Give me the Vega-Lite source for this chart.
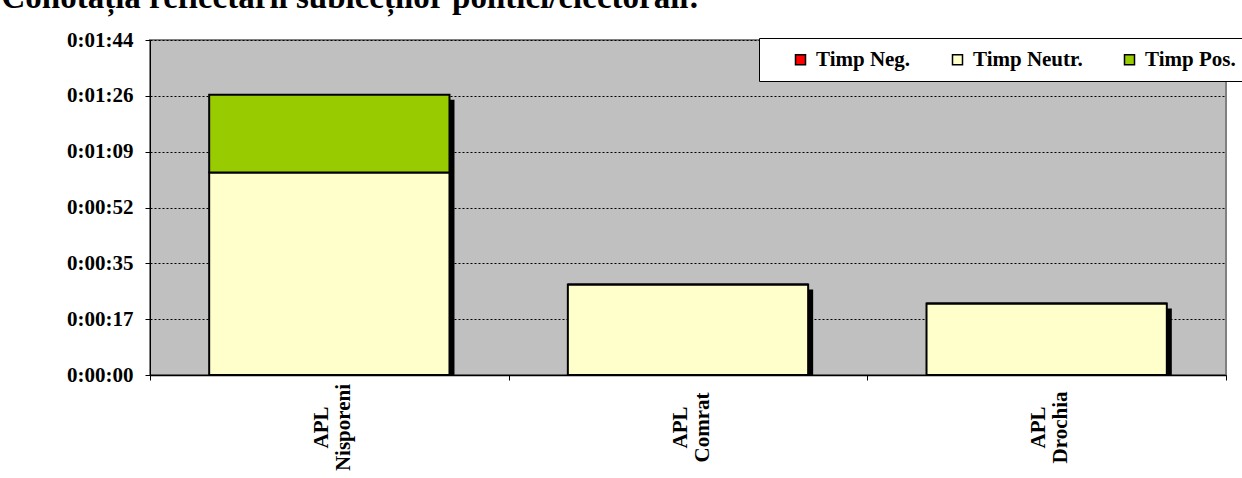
{
  "$schema": "https://vega.github.io/schema/vega-lite/v6.json",
  "autosize": "none",
  "width": 1076,
  "height": 335,
  "padding": {"left": 150, "top": 40, "right": 16, "bottom": 103},
  "background": "white",
  "title": {
    "text": "Conotația reflectării subiecților politici/electorali:",
    "anchor": "start",
    "font": "Liberation Serif",
    "fontSize": 33,
    "fontWeight": "bold",
    "color": "black",
    "dx": -65,
    "dy": 22,
    "offset": 10,
    "baseline": "alphabetic"
  },
  "data": {
    "values": [
      {"subject": "APL Nisporeni", "type": "Timp Neg.", "seconds": 0},
      {"subject": "APL Nisporeni", "type": "Timp Neutr.", "seconds": 62.7},
      {"subject": "APL Nisporeni", "type": "Timp Pos.", "seconds": 24.0},
      {"subject": "APL Comrat", "type": "Timp Neg.", "seconds": 0},
      {"subject": "APL Comrat", "type": "Timp Neutr.", "seconds": 28.0},
      {"subject": "APL Comrat", "type": "Timp Pos.", "seconds": 0},
      {"subject": "APL Drochia", "type": "Timp Neg.", "seconds": 0},
      {"subject": "APL Drochia", "type": "Timp Neutr.", "seconds": 22.1},
      {"subject": "APL Drochia", "type": "Timp Pos.", "seconds": 0}
    ]
  },
  "layer": [
    {
      "mark": {"type": "bar", "color": "black", "xOffset": 5, "yOffset": 5, "clip": true, "width": {"band": 0.67}},
      "encoding": {
        "x": {"field": "subject", "type": "nominal", "sort": ["APL Nisporeni", "APL Comrat", "APL Drochia"], "scale": {"paddingInner": 0, "paddingOuter": 0}, "title": null},
        "y": {"aggregate": "sum", "field": "seconds", "type": "quantitative", "title": null}
      }
    },
    {
      "mark": {"type": "bar", "stroke": "black", "strokeWidth": 2, "width": {"band": 0.67}},
      "encoding": {
        "x": {
          "field": "subject",
          "type": "nominal",
          "sort": ["APL Nisporeni", "APL Comrat", "APL Drochia"],
          "scale": {"paddingInner": 0, "paddingOuter": 0},
          "title": null,
          "axis": {
            "labelAngle": 270,
            "labelAlign": "center",
            "labelBaseline": "middle",
            "labelPadding": 47,
            "labelLineHeight": 22,
            "labelOffset": -8,
            "labelExpr": "split(datum.label, ' ')",
            "tickBand": "extent",
            "tickSize": 5,
            "tickColor": "black",
            "domainColor": "black",
            "domainWidth": 1.5
          }
        },
        "y": {
          "field": "seconds",
          "type": "quantitative",
          "stack": "zero",
          "title": null,
          "scale": {"domain": [0, 103.68], "nice": false, "zero": true},
          "axis": {
            "values": [0, 17.28, 34.56, 51.84, 69.12, 86.4, 103.68],
            "labelExpr": "'0:' + format(floor(round(datum.value) / 60), '02d') + ':' + format(round(datum.value) % 60, '02d')",
            "grid": true,
            "gridColor": "black",
            "gridDash": [2, 2],
            "gridWidth": 1,
            "tickSize": 5,
            "tickColor": "black",
            "domainColor": "black",
            "labelPadding": 12
          }
        },
        "order": {"field": "type", "sort": "ascending"},
        "color": {
          "field": "type",
          "type": "nominal",
          "scale": {"domain": ["Timp Neg.", "Timp Neutr.", "Timp Pos."], "range": ["#FF0000", "#FFFFCC", "#99CC00"]},
          "legend": {
            "orient": "none",
            "legendX": 609,
            "legendY": -2,
            "direction": "horizontal",
            "fillColor": "white",
            "strokeColor": "black",
            "padding": 11,
            "title": " ",
            "titleOrient": "left",
            "titlePadding": 20,
            "labelFont": "Liberation Serif",
            "labelFontSize": 21,
            "labelFontWeight": "bold",
            "labelColor": "black",
            "symbolType": "square",
            "symbolSize": 100,
            "symbolStrokeColor": "black",
            "symbolStrokeWidth": 1.5,
            "symbolOpacity": 1,
            "columnPadding": 36,
            "labelOffset": 5
          }
        }
      }
    }
  ],
  "config": {
    "view": {"fill": "#C0C0C0", "stroke": "#808080", "strokeWidth": 2},
    "axis": {
      "labelFont": "Liberation Serif",
      "labelFontSize": 21,
      "labelFontWeight": "bold",
      "labelColor": "black"
    }
  }
}
